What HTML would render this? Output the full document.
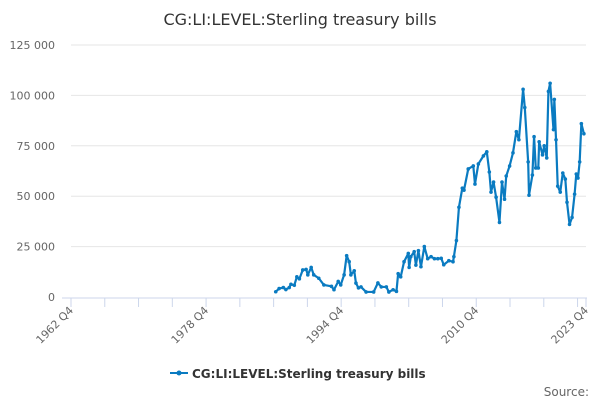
<!DOCTYPE html>
<html><head><meta charset="utf-8"><style>
body{margin:0;background:#fff;font-family:"Liberation Sans","DejaVu Sans",sans-serif}
svg text{font-family:"DejaVu Sans","Liberation Sans",sans-serif}
</style></head><body>
<svg id="chart" width="600" height="400" viewBox="0 0 600 400" xmlns="http://www.w3.org/2000/svg">
<text x="300" y="25" text-anchor="middle" font-size="16" fill="#333">CG:LI:LEVEL:Sterling treasury bills</text>
<g id="grid"></g><g id="xaxis"></g><g id="series"></g>
<g>
<line x1="170" y1="373" x2="188" y2="373" stroke="#0a7bc1" stroke-width="2"/>
<circle cx="179" cy="373" r="2.5" fill="#0a7bc1"/>
<text x="192" y="378" font-size="12" font-weight="bold" fill="#333">CG:LI:LEVEL:Sterling treasury bills</text>
</g>
<text x="589" y="396" text-anchor="end" font-size="12" fill="#666">Source:</text>
</svg>
<script>
const years=[1987.0,1987.4,1987.9,1988.2,1988.6,1988.8,1989.2,1989.5,1989.8,1990.2,1990.6,1990.8,1991.2,1991.5,1992.1,1992.7,1993.6,1993.9,1994.4,1994.7,1995.1,1995.4,1995.7,1995.9,1996.3,1996.5,1996.8,1997.1,1997.7,1998.6,1999.1,1999.5,2000.1,2000.4,2000.9,2001.3,2001.5,2001.8,2002.2,2002.7,2002.8,2003.0,2003.4,2003.6,2003.9,2004.2,2004.6,2005.0,2005.4,2005.8,2006.2,2006.6,2006.9,2007.5,2008.0,2008.1,2008.4,2008.7,2009.1,2009.3,2009.8,2010.4,2010.6,2011.0,2011.6,2012.0,2012.3,2012.5,2012.8,2013.1,2013.5,2013.8,2014.1,2014.3,2014.7,2015.1,2015.5,2015.8,2016.3,2016.5,2016.9,2017.0,2017.4,2017.6,2017.8,2018.1,2018.2,2018.6,2018.8,2019.1,2019.3,2019.5,2019.9,2020.0,2020.2,2020.4,2020.7,2021.0,2021.3,2021.5,2021.8,2022.1,2022.4,2022.6,2022.8,2023.0,2023.2,2023.5];
const values=[2600,4200,4700,3700,4700,6300,5800,10000,9000,13400,13700,11000,14700,11000,9300,6000,5300,3600,7700,6000,11000,20500,17500,11000,13000,6900,4500,5000,2500,2500,7000,5000,5000,2500,3600,2800,11600,10000,17500,21600,14700,20000,22500,15800,23000,15000,25000,19000,20000,19000,19000,19200,16000,18000,17500,20000,28000,44500,54000,53000,63500,65000,56000,66000,70000,72000,62000,52000,57000,49500,37000,57000,48500,60000,65000,71500,82000,78000,103000,94000,67000,50500,60500,79500,64000,64000,77000,70500,75000,69000,102000,106000,83000,98000,78000,55000,52000,61500,58500,47000,36000,39500,51000,61000,59000,67000,86000,81000];
const yTicks=[0,25000,50000,75000,100000,125000];
const yTickLabels=["0","25 000","50 000","75 000","100 000","125 000"];
const xTickLabels=["1962 Q4","1978 Q4","1994 Q4","2010 Q4","2023 Q4"];
const xTickYears=[1962.75,1978.75,1994.75,2010.75,2023.75];
const NS="http://www.w3.org/2000/svg";
const X0=71,X1=586,Y0=297,Y1=45;
const xs=y=>X0+(y-1962.75)/(2023.75-1962.75)*(X1-X0);
const ys=v=>Y0-v/125000*(Y0-Y1);
function mk(t,a,p){const e=document.createElementNS(NS,t);for(const k in a)e.setAttribute(k,a[k]);p.appendChild(e);return e;}
const g=document.getElementById('grid');
yTicks.forEach((v,i)=>{
 if(v>0){const l=mk('line',{x1:X0,x2:X1,y1:ys(v),y2:ys(v),stroke:'#e6e6e6'},g);
 
 }
 const t=mk('text',{x:55,y:ys(v)+4,'text-anchor':'end','font-size':11,fill:'#666'},g);t.textContent=yTickLabels[i];
 
 
});
const xa=document.getElementById('xaxis');
const ax=mk('line',{x1:X0-9,x2:X1+1,y1:Y0+1,y2:Y0+1,stroke:'#ccd6eb'},xa);


for(let yr=1962.75;yr<=2023.8;yr+=4){mk('line',{x1:xs(yr),x2:xs(yr),y1:Y0+1,y2:Y0+10,stroke:'#ccd6eb'},xa);}
mk('line',{x1:X1,x2:X1,y1:Y0+1,y2:Y0+10,stroke:'#ccd6eb'},xa);
xTickLabels.forEach((s,i)=>{const x=xs(xTickYears[i]);
 const t=mk('text',{x:x+3,y:Y0+14,'text-anchor':'end','font-size':11,fill:'#666',transform:`rotate(-45 ${x+3} ${Y0+14})`},xa);t.textContent=s;
 
 });
const sg=document.getElementById('series');
const pl=mk('polyline',{points:years.map((y,i)=>xs(y)+','+ys(values[i])).join(' '),fill:'none',stroke:'#0a7bc1','stroke-width':2.2,'stroke-linejoin':'round'},sg);


years.forEach((y,i)=>{const c=mk('circle',{cx:xs(y),cy:ys(values[i]),r:1.8,fill:'#0a7bc1'},sg);
 
 });
</script>
</body></html>
